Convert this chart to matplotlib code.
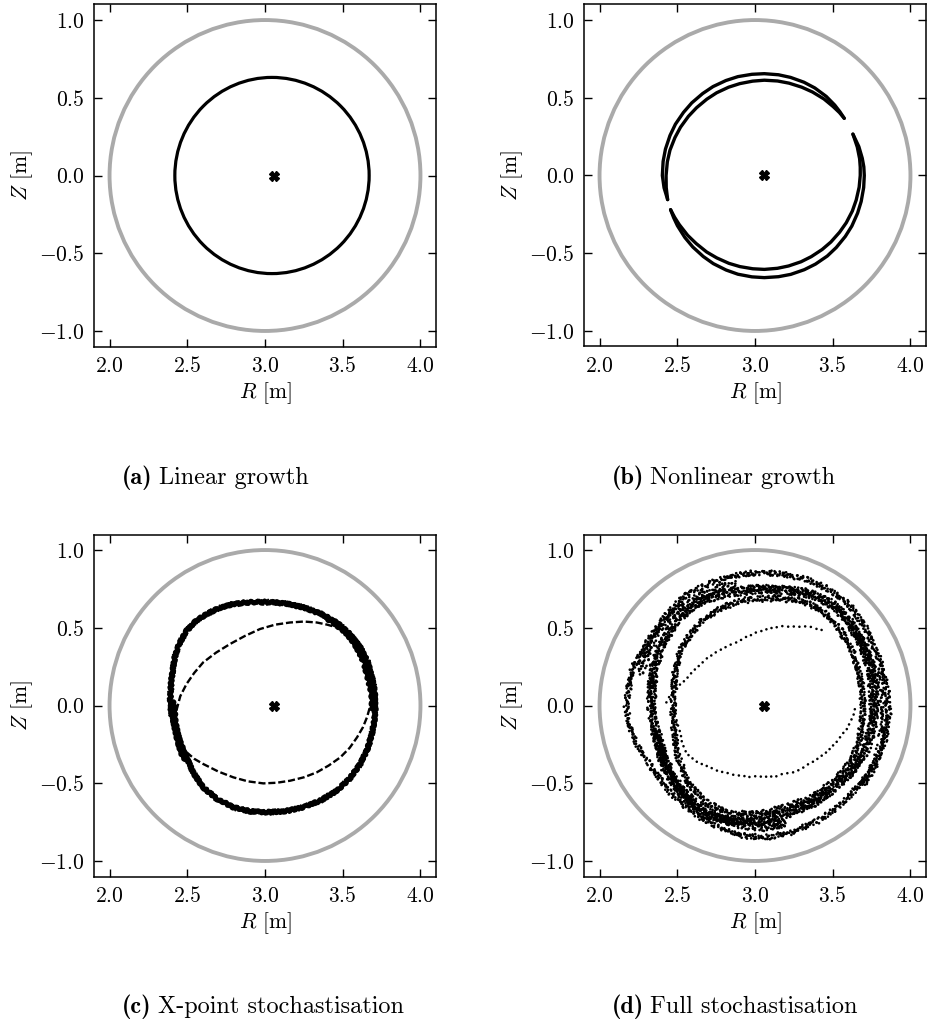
import matplotlib

matplotlib.use("Agg")
import matplotlib.pyplot as plt  # noqa: E402
from matplotlib.patches import Circle, Ellipse  # noqa: E402

plt.rcParams.update({
    "font.family": "serif",
    "font.serif": ["cmr10"],
    "mathtext.fontset": "cm",
    "axes.formatter.use_mathtext": True,
    "font.size": 15.5,
    "axes.linewidth": 1.1,
})

# first wall + magnetic axis (same in every panel)
WALL_R0, WALL_Z0, WALL_RAD = 3.0, 0.0, 1.0
AXIS_R, AXIS_Z = 3.06, 0.0

XTICKS = [2.0, 2.5, 3.0, 3.5, 4.0]
YTICKS = [-1.0, -0.5, 0.0, 0.5, 1.0]

TAGS = ["(a)", "(b)", "(c)", "(d)"]
CAPTIONS = ["Linear growth", "Nonlinear growth", "X-point stochastisation", "Full stochastisation"]

# (a) single intact flux surface
A_R0, A_Z0, A_W, A_H = 3.045, 0.0, 1.25, 1.262

# (b) two crescents, each an outer and inner strand
B1_OUT_R = [2.438, 2.415, 2.404, 2.409, 2.424, 2.453, 2.488, 2.540, 2.593, 2.663, 2.730, 2.813, 2.890,
            2.980, 3.060, 3.151, 3.229, 3.315, 3.385, 3.458, 3.513, 3.547, 3.574]
B1_OUT_Z = [-0.155, -0.079, 0.000, 0.091, 0.170, 0.257, 0.330, 0.406, 0.467, 0.527, 0.572, 0.611, 0.636,
            0.651, 0.655, 0.648, 0.631, 0.600, 0.563, 0.509, 0.453, 0.409, 0.368]
B1_IN_R = [2.438, 2.429, 2.428, 2.436, 2.453, 2.485, 2.521, 2.572, 2.624, 2.690, 2.753, 2.830, 2.902,
           2.985, 3.060, 3.145, 3.219, 3.301, 3.370, 3.444, 3.503, 3.543, 3.574]
B1_IN_Z = [-0.155, -0.078, 0.000, 0.088, 0.163, 0.244, 0.311, 0.381, 0.436, 0.491, 0.532, 0.568, 0.591,
           0.607, 0.613, 0.608, 0.594, 0.568, 0.537, 0.492, 0.443, 0.405, 0.368]
B2_OUT_R = [3.630, 3.668, 3.690, 3.700, 3.703, 3.699, 3.683, 3.660, 3.623, 3.581, 3.523, 3.465, 3.389,
            3.317, 3.230, 3.151, 3.060, 2.980, 2.890, 2.814, 2.732, 2.667, 2.600, 2.549, 2.501, 2.477, 2.457]
B2_OUT_Z = [0.266, 0.186, 0.111, 0.056, 0.000, -0.078, -0.167, -0.242, -0.325, -0.392, -0.463, -0.518,
            -0.570, -0.606, -0.636, -0.651, -0.657, -0.652, -0.635, -0.608, -0.567, -0.521, -0.460,
            -0.399, -0.323, -0.272, -0.220]
B2_IN_R = [3.630, 3.658, 3.673, 3.677, 3.677, 3.670, 3.651, 3.626, 3.587, 3.544, 3.488, 3.432, 3.362,
           3.296, 3.216, 3.144, 3.060, 2.986, 2.903, 2.832, 2.754, 2.689, 2.622, 2.567, 2.513, 2.483, 2.457]
B2_IN_Z = [0.266, 0.183, 0.108, 0.054, 0.000, -0.075, -0.158, -0.229, -0.304, -0.365, -0.428, -0.476,
           -0.522, -0.555, -0.582, -0.597, -0.604, -0.600, -0.586, -0.565, -0.530, -0.492, -0.438,
           -0.385, -0.316, -0.269, -0.220]

# (c) thick stochastic band + thin inner loop + dense knots near the X-points
C_BAND_R = [2.390, 2.392, 2.397, 2.419, 2.450, 2.495, 2.555, 2.624, 2.705, 2.796, 2.910, 3.032, 3.140,
            3.247, 3.360, 3.462, 3.545, 3.613, 3.660, 3.688, 3.705, 3.710, 3.705, 3.688, 3.657, 3.613,
            3.545, 3.462, 3.360, 3.247, 3.130, 3.011, 2.900, 2.796, 2.690, 2.602, 2.540, 2.495, 2.460,
            2.430, 2.405, 2.390]
C_BAND_Z = [0.000, 0.080, 0.160, 0.309, 0.400, 0.481, 0.543, 0.588, 0.627, 0.653, 0.665, 0.665, 0.655,
            0.631, 0.590, 0.534, 0.460, 0.374, 0.280, 0.181, 0.095, 0.010, -0.090, -0.183, -0.285, -0.376,
            -0.470, -0.548, -0.610, -0.655, -0.680, -0.687, -0.680, -0.655, -0.600, -0.527, -0.435,
            -0.334, -0.250, -0.162, -0.080, 0.000]
C_UP_R = [2.430, 2.455, 2.495, 2.545, 2.602, 2.685, 2.774, 2.870, 2.968, 3.065, 3.161, 3.250, 3.333, 3.400, 3.462]
C_UP_Z = [-0.033, 0.060, 0.138, 0.210, 0.277, 0.340, 0.395, 0.447, 0.492, 0.520, 0.534, 0.540, 0.534, 0.520, 0.502]
C_LO_R = [2.495, 2.545, 2.602, 2.700, 2.796, 2.890, 2.989, 3.075, 3.161, 3.250, 3.333, 3.410, 3.484,
          3.545, 3.592, 3.630, 3.656, 3.675, 3.688]
C_LO_Z = [-0.300, -0.343, -0.376, -0.425, -0.462, -0.488, -0.501, -0.497, -0.484, -0.462, -0.430, -0.386,
          -0.334, -0.272, -0.205, -0.140, -0.076, -0.010, 0.052]
C_KNOT1_R = [3.40, 3.46, 3.52, 3.57, 3.61, 3.64, 3.66, 3.68, 3.69, 3.69]
C_KNOT1_Z = [0.56, 0.52, 0.47, 0.41, 0.34, 0.27, 0.19, 0.11, 0.04, -0.02]
C_KNOT2_R = [2.41, 2.415, 2.42, 2.435, 2.45, 2.47, 2.50]
C_KNOT2_Z = [0.02, -0.05, -0.12, -0.19, -0.25, -0.31, -0.36]

# (d) three scattered rings, two dense side strands and a thin inner loop
D_A_R = [2.172, 2.190, 2.215, 2.301, 2.419, 2.548, 2.720, 2.892, 3.022, 3.172, 3.323, 3.473, 3.602, 3.710,
         3.796, 3.849, 3.860, 3.839, 3.785, 3.699, 3.559, 3.409, 3.237, 3.065, 2.914, 2.763, 2.613,
         2.462, 2.333, 2.226, 2.183, 2.172]
D_A_Z = [0.000, 0.120, 0.245, 0.395, 0.567, 0.706, 0.792, 0.841, 0.856, 0.846, 0.814, 0.749, 0.653, 0.503,
         0.310, 0.117, -0.055, -0.205, -0.355, -0.483, -0.633, -0.741, -0.816, -0.848, -0.837, -0.784, -0.698,
         -0.569, -0.398, -0.226, -0.098, 0.000]
D_B_R = [2.333, 2.344, 2.398, 2.505, 2.656, 2.828, 3.022, 3.194, 3.366, 3.495, 3.602, 3.688, 3.742, 3.763,
         3.763, 3.720, 3.645, 3.516, 3.366, 3.194, 3.022, 2.849, 2.677, 2.527, 2.419, 2.366, 2.333]
D_B_Z = [0.000, 0.224, 0.395, 0.567, 0.674, 0.728, 0.749, 0.745, 0.717, 0.653, 0.546, 0.396, 0.245, 0.074,
         -0.098, -0.269, -0.398, -0.526, -0.633, -0.698, -0.741, -0.751, -0.698, -0.569, -0.398, -0.205, 0.000]
D_C_R = [2.473, 2.484, 2.527, 2.634, 2.763, 2.935, 3.129, 3.301, 3.430, 3.538, 3.624, 3.677, 3.699, 3.677,
         3.624, 3.516, 3.366, 3.194, 3.022, 2.849, 2.699, 2.570, 2.505, 2.480, 2.473]
D_C_Z = [0.000, 0.203, 0.374, 0.524, 0.621, 0.678, 0.691, 0.674, 0.610, 0.503, 0.353, 0.181, -0.012, -0.205,
         -0.355, -0.483, -0.591, -0.655, -0.698, -0.698, -0.633, -0.505, -0.333, -0.162, 0.000]
D_TL_R = [2.26, 2.29, 2.35, 2.45, 2.58, 2.72, 2.88]
D_TL_Z = [0.20, 0.30, 0.45, 0.58, 0.68, 0.74, 0.78]
D_BL_R = [2.36, 2.40, 2.47, 2.58, 2.72, 2.88, 3.05, 3.20]
D_BL_Z = [-0.15, -0.30, -0.47, -0.60, -0.70, -0.76, -0.78, -0.76]
D_RT_R = [3.60, 3.70, 3.78, 3.82, 3.83, 3.81, 3.76, 3.68]
D_RT_Z = [0.55, 0.40, 0.22, 0.05, -0.10, -0.25, -0.40, -0.52]
D_UP_R = [2.430, 2.470, 2.527, 2.600, 2.677, 2.760, 2.849, 2.935, 3.022, 3.100, 3.172, 3.250, 3.323, 3.380, 3.430]
D_UP_Z = [0.020, 0.080, 0.138, 0.215, 0.288, 0.345, 0.395, 0.437, 0.471, 0.493, 0.507, 0.512, 0.507, 0.497, 0.481]
D_LO_R = [2.480, 2.505, 2.530, 2.559, 2.640, 2.753, 2.882, 2.975, 3.065, 3.150, 3.237, 3.325, 3.409, 3.470,
          3.516, 3.560, 3.602, 3.630, 3.645]
D_LO_Z = [-0.060, -0.140, -0.230, -0.312, -0.375, -0.419, -0.446, -0.458, -0.462, -0.452, -0.430, -0.393,
          -0.344, -0.298, -0.248, -0.195, -0.140, -0.075, -0.012]

W, H = 930, 1023
AX_W, AX_H = 342, 343
# (left, top) of each axes in pixels
AX_POS = [(94, 4), (584, 4), (94, 534), (584, 534)]
# caption baseline (left, y) in pixels
CAP_POS = [(122, 484), (612, 484), (122, 1013), (612, 1013)]


def _frame(ax):
    ax.add_patch(Circle((WALL_R0, WALL_Z0), WALL_RAD, fill=False, ec="#aaaaaa", lw=2.8, zorder=1))
    ax.plot([AXIS_R], [AXIS_Z], marker="X", ms=6.5, color="k", ls="none", zorder=5)
    ax.set_xlim(1.9, 4.1)
    ax.set_ylim(-1.1, 1.1)
    ax.set_aspect("equal")
    ax.set_xticks(XTICKS)
    ax.set_yticks(YTICKS)
    ax.tick_params(direction="in", top=True, right=True, length=6, width=1.0, pad=7)
    ax.set_xlabel(r"$R$ [m]", labelpad=3)
    ax.set_ylabel(r"$Z$ [m]", labelpad=3)


def _rough(line, scale, length, randomness):
    line.set_sketch_params(scale, length, randomness)
    return line


def _scatter_band(ax, r, z, lw, gap, jitter, passes=3):
    # dotted strand with a rough sketch so the dots spread like Poincare hits
    styles = [(gap, 5.0), (gap * 1.3, 7.0), (gap * 1.6, 3.5), (gap * 1.9, 9.0)][:passes]
    for k, (g, ln) in enumerate(styles):
        (ln_,) = ax.plot(r, z, color="k", lw=lw, ls=(k * 0.7, (0.01, g)), dash_capstyle="round", zorder=3)
        _rough(ln_, jitter, ln, 3.0)


fig = plt.figure(figsize=(W / 100, H / 100), dpi=100)
axes = []
for left, top in AX_POS:
    axes.append(fig.add_axes([left / W, 1 - (top + AX_H) / H, AX_W / W, AX_H / H]))

# (a)
ax = axes[0]
_frame(ax)
ax.add_patch(Ellipse((A_R0, A_Z0), A_W, A_H, fill=False, ec="k", lw=2.3, zorder=3))

# (b)
ax = axes[1]
_frame(ax)
for r, z in [(B1_OUT_R, B1_OUT_Z), (B1_IN_R, B1_IN_Z), (B2_OUT_R, B2_OUT_Z), (B2_IN_R, B2_IN_Z)]:
    ax.plot(r, z, color="k", lw=2.4, solid_capstyle="round", solid_joinstyle="round", zorder=3)

# (c)
ax = axes[2]
_frame(ax)
(band,) = ax.plot(C_BAND_R, C_BAND_Z, color="k", lw=3.6, solid_joinstyle="round", solid_capstyle="round", zorder=3)
_rough(band, 1.0, 6.0, 2.0)
_scatter_band(ax, C_BAND_R, C_BAND_Z, 1.6, 1.3, 2.6)
for r, z, w in [(C_KNOT1_R, C_KNOT1_Z, 3.8), (C_KNOT2_R, C_KNOT2_Z, 4.6)]:
    (kn,) = ax.plot(r, z, color="k", lw=w, solid_capstyle="round", solid_joinstyle="round", zorder=3)
    _rough(kn, 1.2, 6.0, 2.0)
for r, z in [(C_UP_R, C_UP_Z), (C_LO_R, C_LO_Z)]:
    ax.plot(r, z, color="k", lw=1.7, ls=(0, (3.0, 1.2)), solid_joinstyle="round", zorder=3)

# (d)
ax = axes[3]
_frame(ax)
_scatter_band(ax, D_A_R, D_A_Z, 2.0, 1.8, 2.8, passes=3)
_scatter_band(ax, D_B_R, D_B_Z, 2.0, 1.4, 4.5, passes=4)
_scatter_band(ax, D_C_R, D_C_Z, 2.0, 1.6, 3.0, passes=3)
_scatter_band(ax, D_TL_R, D_TL_Z, 2.0, 1.6, 4.0, passes=2)
_scatter_band(ax, D_BL_R, D_BL_Z, 2.0, 1.4, 4.5, passes=3)
_scatter_band(ax, D_RT_R, D_RT_Z, 2.0, 1.8, 4.0, passes=2)
for r, z in [(D_UP_R, D_UP_Z), (D_LO_R, D_LO_Z)]:
    (th,) = ax.plot(r, z, color="k", lw=1.9, ls=(0, (0.01, 2.4)), dash_capstyle="round", zorder=3)
    _rough(th, 0.8, 6.0, 2.0)

renderer = fig.canvas.get_renderer()
for (x, y), tag, cap in zip(CAP_POS, TAGS, CAPTIONS):
    t = fig.text(x / W, 1 - y / H, tag, ha="left", va="baseline", fontsize=17.5, family="cmb10")
    bb = t.get_window_extent(renderer)
    fig.text((bb.x1 + 6) / W, 1 - y / H, cap, ha="left", va="baseline", fontsize=17.5)

fig.savefig("out.png", dpi=100)
